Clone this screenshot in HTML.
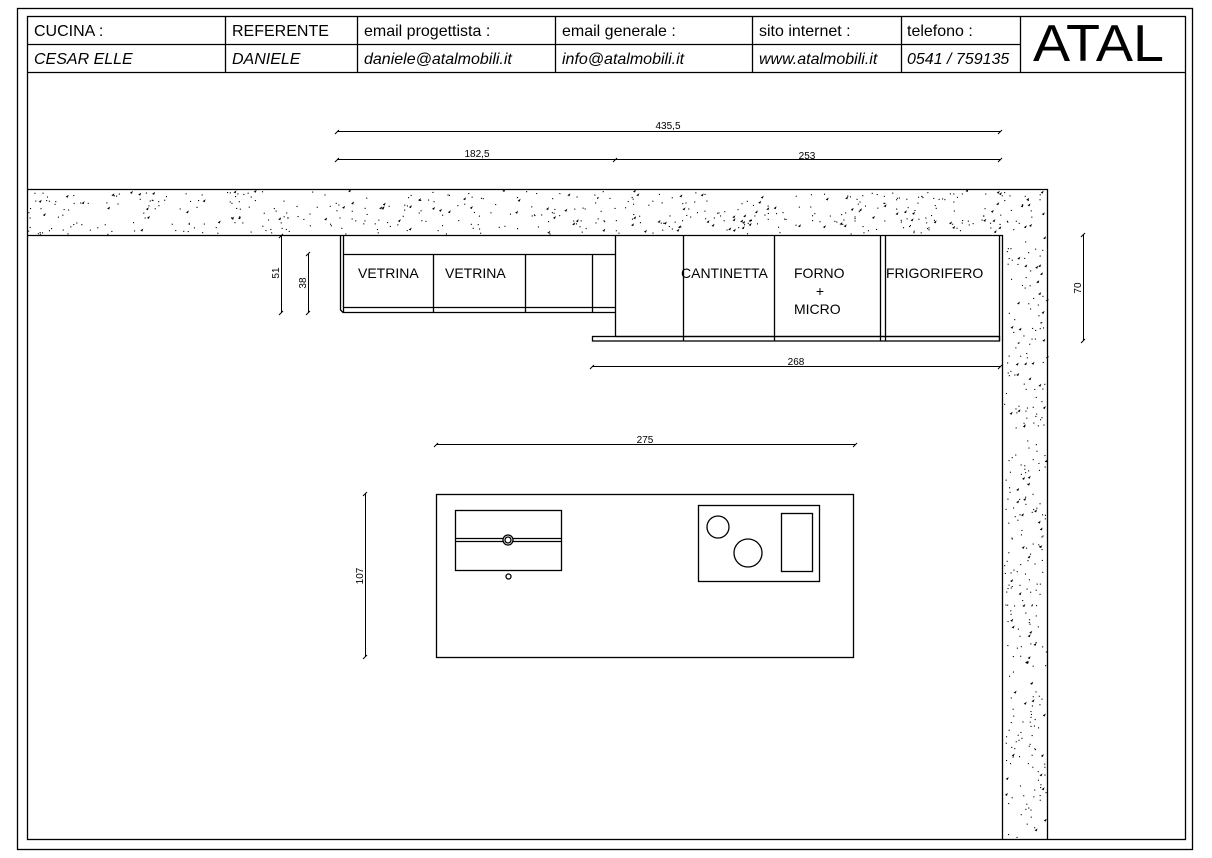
<!DOCTYPE html>
<html><head><meta charset="utf-8"><style>
html,body{margin:0;padding:0;background:#fff;}
svg{display:block;}
text{font-family:"Liberation Sans",Arial,sans-serif;fill:#000;}
</style></head><body>
<svg id="s" width="1212" height="858" viewBox="0 0 1212 858" xmlns="http://www.w3.org/2000/svg">
<g fill="none" stroke="#000" stroke-width="1.3">
<rect x="17.5" y="8.5" width="1175" height="841"/>
<rect x="27.5" y="16.5" width="1158" height="823"/>
<line x1="27" y1="44.5" x2="1020" y2="44.5"/>
<line x1="27" y1="72.5" x2="1185" y2="72.5"/>
<line x1="225.5" y1="16" x2="225.5" y2="72"/>
<line x1="357.5" y1="16" x2="357.5" y2="72"/>
<line x1="555.5" y1="16" x2="555.5" y2="72"/>
<line x1="752.5" y1="16" x2="752.5" y2="72"/>
<line x1="901.5" y1="16" x2="901.5" y2="72"/>
<line x1="1020.5" y1="16" x2="1020.5" y2="72"/>
<polyline points="27,189.5 1047.5,189.5 1047.5,840"/>
<polyline points="27,235.5 1002.5,235.5 1002.5,840"/>
<polyline points="340.5,235 340.5,310 343,312.5 615,312.5"/>
<line x1="343.5" y1="236" x2="343.5" y2="312"/>
<line x1="343" y1="254.5" x2="615" y2="254.5"/>
<line x1="343" y1="307.5" x2="615" y2="307.5"/>
<line x1="433.5" y1="254" x2="433.5" y2="312"/>
<line x1="525.5" y1="254" x2="525.5" y2="312"/>
<line x1="592.5" y1="254" x2="592.5" y2="312"/>
<line x1="615.5" y1="235" x2="615.5" y2="336"/>
<line x1="683.5" y1="235" x2="683.5" y2="341"/>
<line x1="774.5" y1="235" x2="774.5" y2="341"/>
<line x1="880.5" y1="235" x2="880.5" y2="341"/>
<line x1="885.5" y1="235" x2="885.5" y2="341"/>
<line x1="999.5" y1="235" x2="999.5" y2="341"/>
<line x1="615" y1="336.5" x2="1000" y2="336.5"/>
<rect x="592.5" y="336.5" width="407" height="4.5"/>
<rect x="436.5" y="494.5" width="417" height="163"/>
<rect x="455.5" y="510.5" width="106" height="60"/>
<line x1="455" y1="538.5" x2="561" y2="538.5"/>
<line x1="455" y1="541.5" x2="561" y2="541.5"/>
<circle cx="508" cy="540" r="5" fill="#fff"/>
<circle cx="508" cy="540" r="3"/>
<circle cx="508.5" cy="576.5" r="2.5"/>
<rect x="698.5" y="505.5" width="121" height="76"/>
<circle cx="718" cy="527" r="11"/>
<circle cx="748" cy="553" r="14"/>
<rect x="781.5" y="513.5" width="31" height="58"/>
</g>
<g stroke="#000" stroke-width="1" fill="none">
<line x1="337" y1="131.5" x2="1000" y2="131.5"/>
<line x1="337" y1="159.5" x2="1000" y2="159.5"/>
<line x1="592" y1="366.5" x2="1000" y2="366.5"/>
<line x1="436" y1="444.5" x2="855" y2="444.5"/>
<line x1="281.5" y1="236" x2="281.5" y2="313"/>
<line x1="308.5" y1="254" x2="308.5" y2="313"/>
<line x1="1083.5" y1="235" x2="1083.5" y2="341"/>
<line x1="365.5" y1="494" x2="365.5" y2="657"/>
<path d="M335,134 l4,-4 M998,134 l4,-4 M335,162 l4,-4 M613,162 l4,-4 M998,162 l4,-4 M590,369 l4,-4 M998,369 l4,-4 M434,447 l4,-4 M853,447 l4,-4 M279,238 l4,-4 M279,315 l4,-4 M306,256 l4,-4 M306,315 l4,-4 M1081,237 l4,-4 M1081,343 l4,-4 M363,496 l4,-4 M363,659 l4,-4"/>
</g>
<g id="dots" fill="#000"></g>
<g font-size="16">
<text x="34" y="36">CUCINA :</text>
<text x="232" y="36">REFERENTE</text>
<text x="364" y="36">email progettista :</text>
<text x="562" y="36">email generale :</text>
<text x="759" y="36">sito internet :</text>
<text x="907" y="36">telefono :</text>
<g font-style="italic">
<text x="34" y="64">CESAR ELLE</text>
<text x="232" y="64">DANIELE</text>
<text x="364" y="64">daniele@atalmobili.it</text>
<text x="562" y="64">info@atalmobili.it</text>
<text x="759" y="64">www.atalmobili.it</text>
<text x="907" y="64">0541 / 759135</text>
</g>
</g>
<text x="1033" y="61" font-size="52" textLength="131" lengthAdjust="spacingAndGlyphs">ATAL</text>
<g font-size="14">
<text x="358" y="278">VETRINA</text>
<text x="445" y="278">VETRINA</text>
<text x="681" y="278">CANTINETTA</text>
<text x="794" y="278">FORNO</text>
<text x="820" y="296" text-anchor="middle">+</text>
<text x="794" y="314">MICRO</text>
<text x="886" y="278">FRIGORIFERO</text>
</g>
<g font-size="10">
<text x="668" y="129" text-anchor="middle">435,5</text>
<text x="477" y="157" text-anchor="middle">182,5</text>
<text x="807" y="159" text-anchor="middle">253</text>
<text x="796" y="365" text-anchor="middle">268</text>
<text x="645" y="443" text-anchor="middle">275</text>
<text transform="translate(279,273) rotate(-90)" text-anchor="middle">51</text>
<text transform="translate(306,283) rotate(-90)" text-anchor="middle">38</text>
<text transform="translate(1081,288) rotate(-90)" text-anchor="middle">70</text>
<text transform="translate(363,576) rotate(-90)" text-anchor="middle">107</text>
</g>
</svg>
<script>
(function(){
var g=document.getElementById('dots'),ns='http://www.w3.org/2000/svg',seed=7;
function r(){seed=(seed*16807)%2147483647;return seed/2147483647;}
function add(x0,y0,w,h,n){
for(var i=0;i<n;i++){var x=x0+r()*w,y=y0+r()*h;var e;
if(r()<0.2){e=document.createElementNS(ns,'path');e.setAttribute('d','M'+x.toFixed(1)+','+y.toFixed(1)+' l3,-2 l-1,3 z');}
else{e=document.createElementNS(ns,'rect');e.setAttribute('x',x.toFixed(1));e.setAttribute('y',y.toFixed(1));e.setAttribute('width','1.1');e.setAttribute('height','1.1');}
g.appendChild(e);}}
add(28,191,1018,43,520);
add(1004,236,42,603,320);
})();
</script>
</body></html>
